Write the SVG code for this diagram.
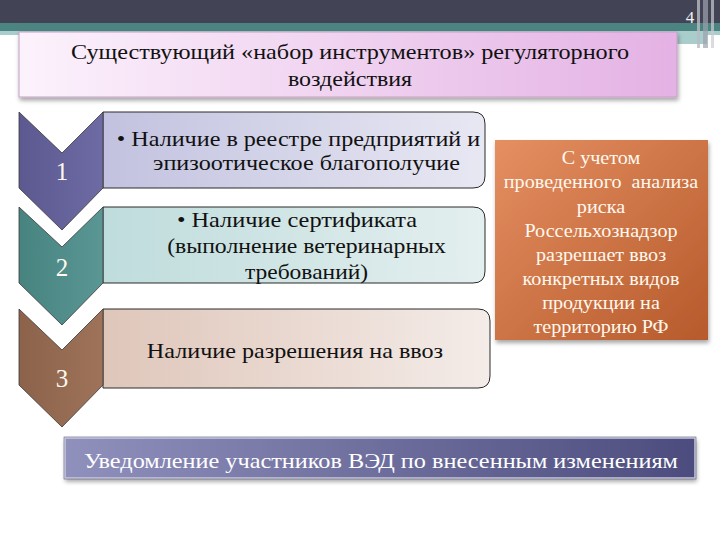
<svg xmlns="http://www.w3.org/2000/svg" width="720" height="540" viewBox="0 0 720 540">
<defs>
<linearGradient id="gTitle" x1="0" y1="0" x2="1" y2="0"><stop offset="0" stop-color="#fcf2fc"/><stop offset="1" stop-color="#e4b2e4"/></linearGradient>
<linearGradient id="gB1" x1="0" y1="0" x2="1" y2="0"><stop offset="0" stop-color="#c2c2e0"/><stop offset="1" stop-color="#e8e8f3"/></linearGradient>
<linearGradient id="gB2" x1="0" y1="0" x2="1" y2="0"><stop offset="0" stop-color="#bfdcdc"/><stop offset="1" stop-color="#e4efef"/></linearGradient>
<linearGradient id="gB3" x1="0" y1="0" x2="1" y2="0"><stop offset="0" stop-color="#dfc6ba"/><stop offset="1" stop-color="#f4ece8"/></linearGradient>
<linearGradient id="gC1" x1="0" y1="0" x2="1" y2="0"><stop offset="0" stop-color="#5c5890"/><stop offset="1" stop-color="#6e6aa3"/></linearGradient>
<linearGradient id="gC2" x1="0" y1="0" x2="1" y2="0"><stop offset="0" stop-color="#47837f"/><stop offset="1" stop-color="#5a9694"/></linearGradient>
<linearGradient id="gC3" x1="0" y1="0" x2="1" y2="0"><stop offset="0" stop-color="#8c624a"/><stop offset="1" stop-color="#9e735a"/></linearGradient>
<linearGradient id="gOr" x1="0" y1="0" x2="1" y2="1"><stop offset="0" stop-color="#e58f62"/><stop offset="1" stop-color="#b65a2b"/></linearGradient>
<linearGradient id="gBar" x1="0" y1="0" x2="1" y2="0"><stop offset="0" stop-color="#9090bd"/><stop offset="1" stop-color="#4c4c7e"/></linearGradient>
<filter id="sh" x="-5%" y="-10%" width="110%" height="130%"><feDropShadow dx="1" dy="3" stdDeviation="2" flood-color="#000" flood-opacity="0.35"/></filter>
</defs>
<style>
text{font-family:'Liberation Serif','Times New Roman',serif;text-anchor:middle}
.dark{fill:#111}
.light{fill:#fff8ee}
.box{stroke:#2a2a2a;stroke-width:1}
.chev{stroke:#3a3a3a;stroke-width:0.8}
</style>
<rect width="720" height="540" fill="#ffffff"/>
<g id="header">
<rect x="0" y="0" width="720" height="24" fill="#424456"/>
<rect x="0" y="23" width="720" height="9" fill="#4b8481"/>
<rect x="0" y="31" width="720" height="4" fill="#a8cdca"/>
<rect x="677" y="31" width="30" height="13" fill="#a8cdca"/>
<rect x="697" y="0" width="3" height="48" fill="#b8bcc4" opacity="0.8"/>
<rect x="703" y="0" width="5" height="48" fill="#9da2ac" opacity="0.7"/>
<rect x="711" y="0" width="3" height="48" fill="#c9ccd2" opacity="0.7"/>
<text x="690" y="23" font-size="17" fill="#f2f2f2">4</text>
</g>
<g id="title" filter="url(#sh)">
<rect x="19" y="32" width="658" height="65" fill="url(#gTitle)" stroke="#c4a0c4" stroke-width="1"/>
</g>
<g id="title-text" class="dark" font-size="22">
<text class="dark" transform="translate(350,59) scale(1.1,1)">Существующий «набор инструментов» регуляторного</text>
<text class="dark" transform="translate(350,86) scale(1.09,1)">воздействия</text>
</g>
<g id="box1">
<path class="box" d="M103,112 H473 Q485,112 485,124 V176 Q485,188 473,188 H103 Z" fill="url(#gB1)"/>
<text class="dark" font-size="21" transform="translate(298.5,146) scale(1.15,1)">• Наличие в реестре предприятий и</text>
<text class="dark" font-size="21" transform="translate(306.5,170) scale(1.15,1)">эпизоотическое благополучие</text>
</g>
<g id="box2">
<path class="box" d="M103,207 H473 Q485,207 485,219 V271 Q485,283 473,283 H103 Z" fill="url(#gB2)"/>
<text class="dark" font-size="21" transform="translate(297,227) scale(1.16,1)">• Наличие сертификата</text>
<text class="dark" font-size="21" transform="translate(306.5,253) scale(1.13,1)">(выполнение ветеринарных</text>
<text class="dark" font-size="21" transform="translate(306.5,278.5) scale(1.12,1)">требований)</text>
</g>
<g id="box3">
<path class="box" d="M103,309 H478 Q490,309 490,321 V376 Q490,388 478,388 H103 Z" fill="url(#gB3)"/>
<text class="dark" font-size="21" transform="translate(295,358) scale(1.15,1)">Наличие разрешения на ввоз</text>
</g>
<g id="step1">
<path class="chev" d="M19,112 L62,153 L103,112 L103,188 L62,230 L19,188 Z" fill="url(#gC1)"/>
<text x="62" y="180" class="light" font-size="25">1</text>
</g>
<g id="step2">
<path class="chev" d="M19,207 L62,247 L103,207 L103,283 L62,325 L19,283 Z" fill="url(#gC2)"/>
<text x="62" y="276" class="light" font-size="25">2</text>
</g>
<g id="step3">
<path class="chev" d="M19,309 L62,350 L103,309 L103,385 L62,427 L19,385 Z" fill="url(#gC3)"/>
<text x="62" y="387" class="light" font-size="25">3</text>
</g>
<g id="risk">
<rect x="495" y="140" width="213" height="200" fill="url(#gOr)" filter="url(#sh)"/>
<g class="light" font-size="18">
<text class="light" transform="translate(601,164) scale(1.12,1)">С учетом</text>
<text class="light" transform="translate(601,188) scale(1.12,1)" xml:space="preserve">проведенного  анализа</text>
<text class="light" transform="translate(601,213) scale(1.12,1)">риска</text>
<text class="light" transform="translate(601,237) scale(1.12,1)">Россельхознадзор</text>
<text class="light" transform="translate(601,261) scale(1.12,1)">разрешает ввоз</text>
<text class="light" transform="translate(601,285) scale(1.12,1)">конкретных видов</text>
<text class="light" transform="translate(601,309) scale(1.12,1)">продукции на</text>
<text class="light" transform="translate(601,333) scale(1.12,1)">территорию РФ</text>
</g>
</g>
<g id="notice">
<rect x="65" y="438" width="630" height="40" fill="url(#gBar)" stroke="#c8c8dc" stroke-width="1.5" filter="url(#sh)"/>
<rect x="64" y="437" width="632" height="42" fill="none" stroke="#5a5a80" stroke-width="0.6"/>
<text fill="#ffffff" font-size="21" transform="translate(381,468) scale(1.156,1)">Уведомление участников ВЭД по внесенным изменениям</text>
</g>
</svg>
